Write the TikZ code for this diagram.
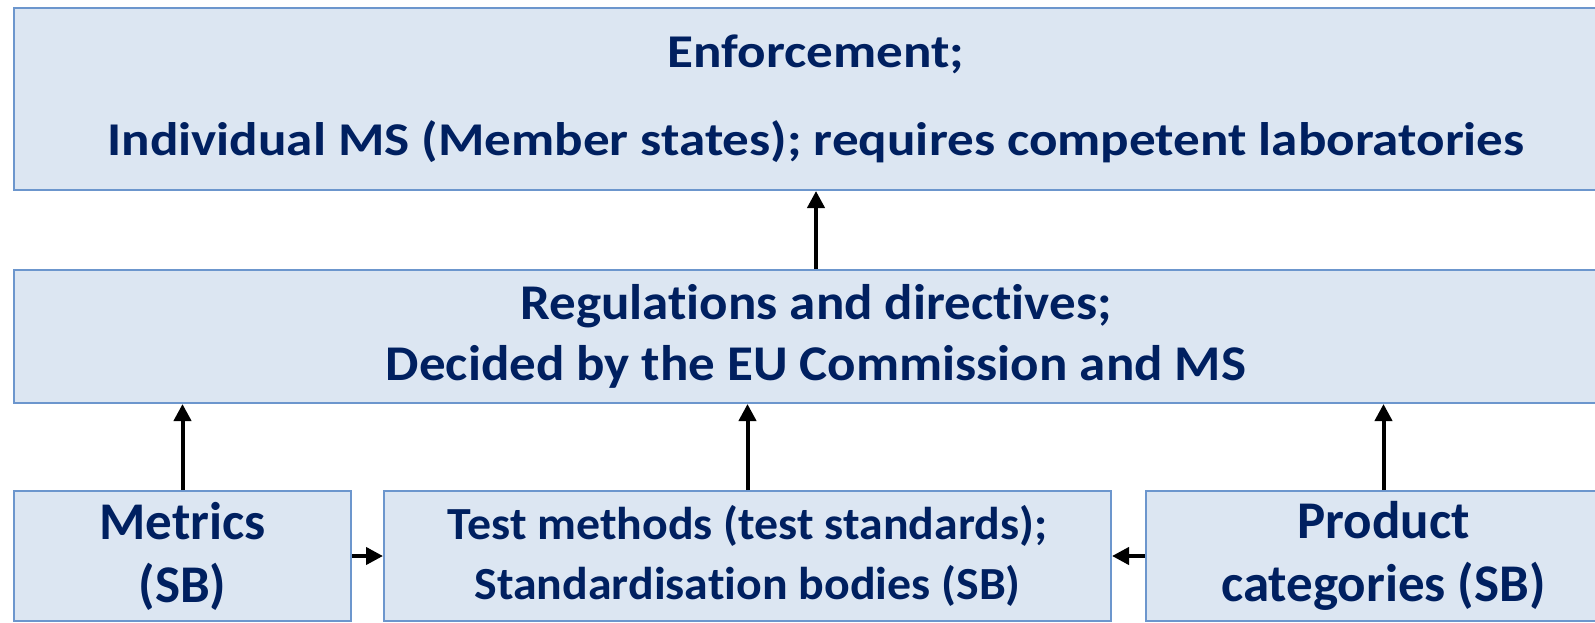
\documentclass[tikz,border=0pt]{standalone}
\usepackage{fontspec}
\setmainfont{Carlito}[Ligatures=NoCommon]
\newfontfamily\wideA{Carlito}[Ligatures=NoCommon, FakeStretch=1.13]
\newfontfamily\wideB{Carlito}[Ligatures=NoCommon, FakeStretch=1.06]
\newfontfamily\wideC{Carlito}[Ligatures=NoCommon, FakeStretch=1.04]
\usetikzlibrary{arrows.meta}

\definecolor{boxfill}{RGB}{220,230,242}
\definecolor{boxline}{RGB}{108,150,205}
\definecolor{boxtext}{RGB}{0,32,96}

\tikzset{every picture/.style={line width=0.75pt}}
\tikzset{
  panel/.style={draw=boxline, fill=boxfill, line width=2, text=boxtext, align=center, anchor=north west, inner sep=0pt},
  flow/.style={line width=4, -{Triangle[length=17,width=17]}},
}

\begin{document}
\begin{tikzpicture}[x=1pt,y=1pt,yscale=-1]
%set diagram frame: 1595 x 623
\clip (0,0) rectangle (1595,623);
\fill[white] (0,0) rectangle (1595,623);

%Shape: Rectangle [id:enforcement]
\node[panel, minimum width=1604, minimum height=182, font=\wideA\bfseries\fontsize{47}{88}\selectfont] (enforce) at (13,7) {Enforcement;\\Individual MS (Member states); requires competent laboratories};
%Shape: Rectangle [id:regulations]
\node[panel, minimum width=1604, minimum height=133, font=\wideB\bfseries\fontsize{50}{61}\selectfont] (regs) at (13,269) {Regulations and directives;\\Decided by the EU Commission and MS};
%Shape: Rectangle [id:metrics]
\node[panel, minimum width=337, minimum height=130, font=\bfseries\fontsize{53}{63}\selectfont] (metrics) at (13,490) {Metrics\\(SB)};
%Shape: Rectangle [id:testmethods]
\node[panel, minimum width=727, minimum height=130, font=\wideC\bfseries\fontsize{46}{60}\selectfont] (test) at (383,490) {Test methods (test standards);\\Standardisation bodies (SB)};
%Shape: Rectangle [id:products]
\node[panel, minimum width=475, minimum height=130, font=\bfseries\fontsize{53}{63}\selectfont] (product) at (1145,490) {Product\\categories (SB)};

%Straight Lines [up]
\draw[flow] (regs.north) -- (enforce.south);
\draw[flow] (metrics.north) -- (metrics.north |- regs.south);
\draw[flow] (test.north) -- (test.north |- regs.south);
\draw[flow] (product.north) -- (product.north |- regs.south);
%Straight Lines [side]
\draw[flow] (metrics.east) -- (test.west);
\draw[flow] (product.west) -- (test.east);

\end{tikzpicture}
\end{document}
